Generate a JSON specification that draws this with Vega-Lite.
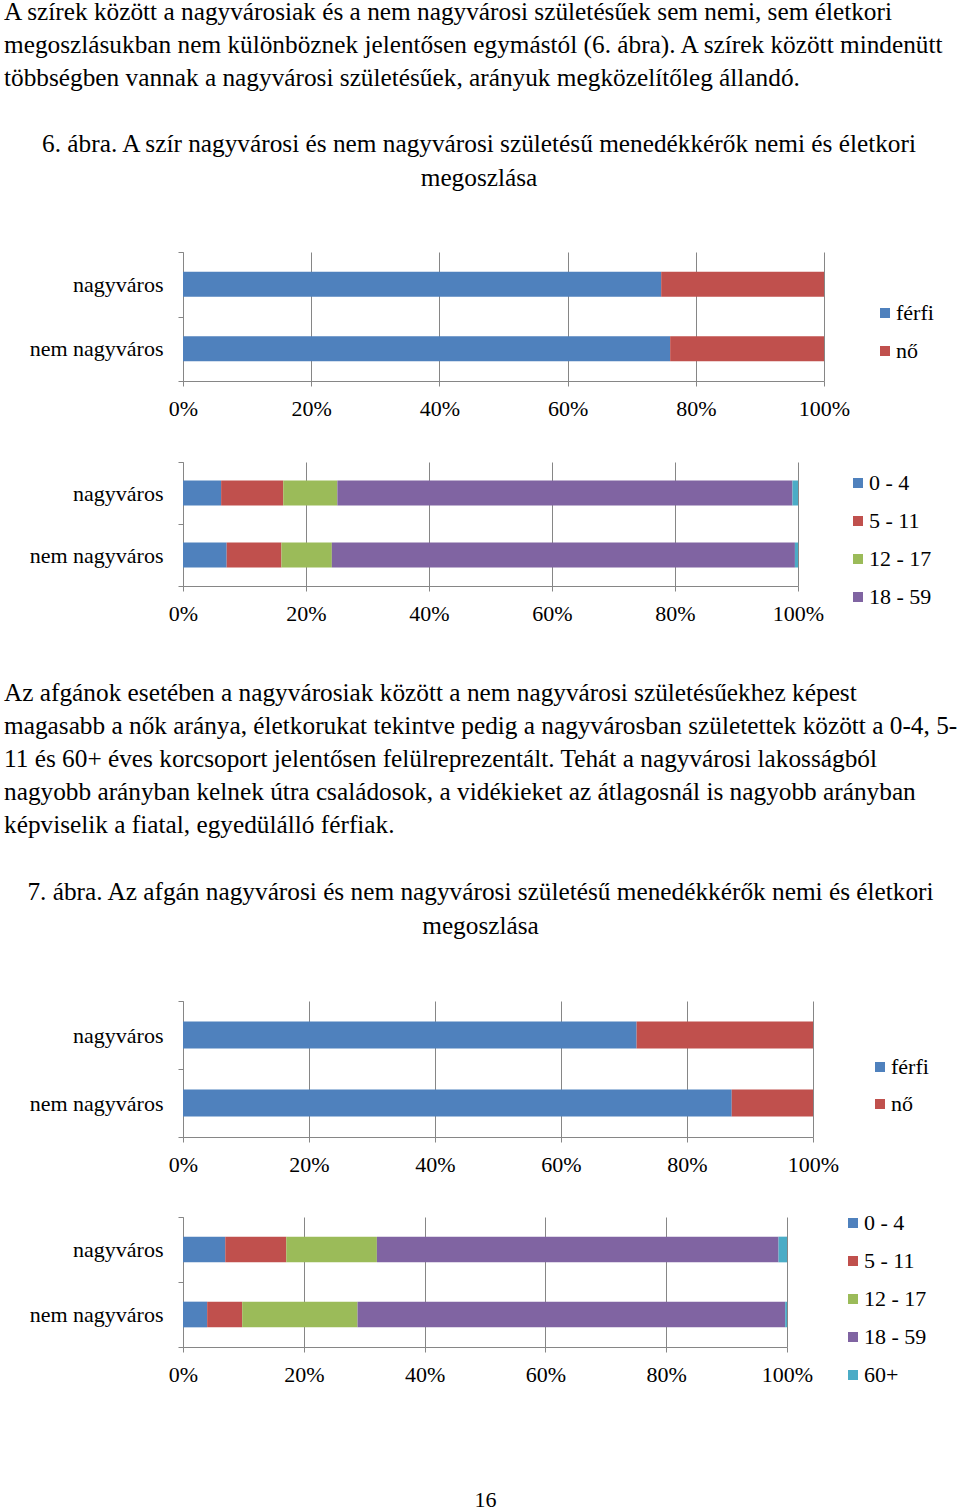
{
  "$schema": "https://vega.github.io/schema/vega-lite/v6.json",
  "background": "white",
  "padding": 0,
  "title": {
    "text": [
      "A szírek között a nagyvárosiak és a nem nagyvárosi születésűek sem nemi, sem életkori",
      "megoszlásukban nem különböznek jelentősen egymástól (6. ábra). A szírek között mindenütt",
      "többségben vannak a nagyvárosi születésűek, arányuk megközelítőleg állandó."
    ],
    "anchor": "start",
    "dx": 4,
    "offset": 40
  },
  "spacing": 57,
  "resolve": {"scale": {"color": "independent", "x": "independent"}, "legend": {"color": "independent"}},
  "vconcat": [
    {
      "title": {
        "text": [
          "6. ábra. A szír nagyvárosi és nem nagyvárosi születésű menedékkérők nemi és életkori",
          "megoszlása"
        ],
        "anchor": "middle",
        "lineHeight": 34,
        "dx": 9,
        "offset": 50
      },
      "spacing": 32,
      "resolve": {"scale": {"color": "independent", "x": "independent"}, "legend": {"color": "independent"}},
      "vconcat": [
        {
          "width": 641,
          "height": 129,
          "data": {
            "values": [
              {"hely": "nagyváros", "csoport": "férfi", "arany": 74.6, "o": 1},
              {"hely": "nagyváros", "csoport": "nő", "arany": 25.4, "o": 2},
              {"hely": "nem nagyváros", "csoport": "férfi", "arany": 76.0, "o": 1},
              {"hely": "nem nagyváros", "csoport": "nő", "arany": 24.0, "o": 2}
            ]
          },
          "mark": {"type": "bar", "strokeWidth": 0, "height": {"band": 0.388}},
          "encoding": {
            "y": {
              "field": "hely", "type": "nominal",
              "sort": ["nagyváros", "nem nagyváros"],
              "scale": {"paddingInner": 0, "paddingOuter": 0},
              "axis": {"title": null, "tickBand": "extent", "labelPadding": 15, "minExtent": 177, "grid": false}
            },
            "x": {
              "field": "arany", "type": "quantitative", "stack": "normalize",
              "scale": {"domain": [0, 1]},
              "axis": {"title": null, "format": ".0%", "values": [0, 0.2, 0.4, 0.6, 0.8, 1], "labelFlush": false, "labelOverlap": false, "labelPadding": 12}
            },
            "color": {
              "field": "csoport", "type": "nominal",
              "scale": {"domain": ["férfi", "nő"], "range": ["#4F81BD", "#C0504D"]},
              "legend": {"orient": "none", "legendX": 691, "legendY": 50}
            },
            "order": {"field": "o"}
          }
        },
        {
          "width": 615,
          "height": 124,
          "data": {
            "values": [
              {"hely": "nagyváros", "csoport": "0 - 4", "arany": 6.2, "o": 1},
              {"hely": "nagyváros", "csoport": "5 - 11", "arany": 10.1, "o": 2},
              {"hely": "nagyváros", "csoport": "12 - 17", "arany": 8.8, "o": 3},
              {"hely": "nagyváros", "csoport": "18 - 59", "arany": 74.0, "o": 4},
              {"hely": "nagyváros", "csoport": "60+", "arany": 0.9, "o": 5},
              {"hely": "nem nagyváros", "csoport": "0 - 4", "arany": 7.1, "o": 1},
              {"hely": "nem nagyváros", "csoport": "5 - 11", "arany": 8.9, "o": 2},
              {"hely": "nem nagyváros", "csoport": "12 - 17", "arany": 8.2, "o": 3},
              {"hely": "nem nagyváros", "csoport": "18 - 59", "arany": 75.3, "o": 4},
              {"hely": "nem nagyváros", "csoport": "60+", "arany": 0.5, "o": 5}
            ]
          },
          "mark": {"type": "bar", "strokeWidth": 0, "height": {"band": 0.403}},
          "encoding": {
            "y": {
              "field": "hely", "type": "nominal",
              "sort": ["nagyváros", "nem nagyváros"],
              "scale": {"paddingInner": 0, "paddingOuter": 0},
              "axis": {"title": null, "tickBand": "extent", "labelPadding": 15, "minExtent": 177, "grid": false}
            },
            "x": {
              "field": "arany", "type": "quantitative", "stack": "normalize",
              "scale": {"domain": [0, 1]},
              "axis": {"title": null, "format": ".0%", "values": [0, 0.2, 0.4, 0.6, 0.8, 1], "labelFlush": false, "labelOverlap": false, "labelPadding": 12}
            },
            "color": {
              "field": "csoport", "type": "nominal",
              "scale": {"domain": ["0 - 4", "5 - 11", "12 - 17", "18 - 59", "60+"], "range": ["#4F81BD", "#C0504D", "#9BBB59", "#8064A2", "#4BACC6"]},
              "legend": {"orient": "none", "legendX": 664, "legendY": 10, "values": ["0 - 4", "5 - 11", "12 - 17", "18 - 59"]}
            },
            "order": {"field": "o"}
          }
        }
      ]
    },
    {
      "title": {
        "text": [
          "Az afgánok esetében a nagyvárosiak között a nem nagyvárosi születésűekhez képest",
          "magasabb a nők aránya, életkorukat tekintve pedig a nagyvárosban születettek között a 0-4, 5-",
          "11 és 60+ éves korcsoport jelentősen felülreprezentált. Tehát a nagyvárosi lakosságból",
          "nagyobb arányban kelnek útra családosok, a vidékieket az átlagosnál is nagyobb arányban",
          "képviselik a fiatal, egyedülálló férfiak."
        ],
        "anchor": "start",
        "dx": 4,
        "offset": 41
      },
      "resolve": {"scale": {"color": "independent", "x": "independent"}, "legend": {"color": "independent"}},
      "vconcat": [
        {
          "title": {
            "text": [
              "7. ábra. Az afgán nagyvárosi és nem nagyvárosi születésű menedékkérők nemi és életkori",
              "megoszlása"
            ],
            "anchor": "middle",
            "lineHeight": 34,
            "dx": 16,
            "offset": 51
          },
          "spacing": 31,
          "resolve": {"scale": {"color": "independent", "x": "independent"}, "legend": {"color": "independent"}},
          "vconcat": [
            {
              "width": 630,
              "height": 136,
              "data": {
                "values": [
                  {"hely": "nagyváros", "csoport": "férfi", "arany": 72.0, "o": 1},
                  {"hely": "nagyváros", "csoport": "nő", "arany": 28.0, "o": 2},
                  {"hely": "nem nagyváros", "csoport": "férfi", "arany": 87.1, "o": 1},
                  {"hely": "nem nagyváros", "csoport": "nő", "arany": 12.9, "o": 2}
                ]
              },
              "mark": {"type": "bar", "strokeWidth": 0, "height": {"band": 0.397}},
              "encoding": {
                "y": {
                  "field": "hely", "type": "nominal",
                  "sort": ["nagyváros", "nem nagyváros"],
                  "scale": {"paddingInner": 0, "paddingOuter": 0},
                  "axis": {"title": null, "tickBand": "extent", "labelPadding": 15, "minExtent": 183, "grid": false}
                },
                "x": {
                  "field": "arany", "type": "quantitative", "stack": "normalize",
                  "scale": {"domain": [0, 1]},
                  "axis": {"title": null, "format": ".0%", "values": [0, 0.2, 0.4, 0.6, 0.8, 1], "labelFlush": false, "labelOverlap": false, "labelPadding": 12}
                },
                "color": {
                  "field": "csoport", "type": "nominal",
                  "scale": {"domain": ["férfi", "nő"], "range": ["#4F81BD", "#C0504D"]},
                  "legend": {"orient": "none", "legendX": 686, "legendY": 55, "rowPadding": 15}
                },
                "order": {"field": "o"}
              }
            },
            {
              "width": 604,
              "height": 130,
              "data": {
                "values": [
                  {"hely": "nagyváros", "csoport": "0 - 4", "arany": 7.0, "o": 1},
                  {"hely": "nagyváros", "csoport": "5 - 11", "arany": 10.1, "o": 2},
                  {"hely": "nagyváros", "csoport": "12 - 17", "arany": 15.0, "o": 3},
                  {"hely": "nagyváros", "csoport": "18 - 59", "arany": 66.5, "o": 4},
                  {"hely": "nagyváros", "csoport": "60+", "arany": 1.4, "o": 5},
                  {"hely": "nem nagyváros", "csoport": "0 - 4", "arany": 4.0, "o": 1},
                  {"hely": "nem nagyváros", "csoport": "5 - 11", "arany": 5.8, "o": 2},
                  {"hely": "nem nagyváros", "csoport": "12 - 17", "arany": 19.1, "o": 3},
                  {"hely": "nem nagyváros", "csoport": "18 - 59", "arany": 70.8, "o": 4},
                  {"hely": "nem nagyváros", "csoport": "60+", "arany": 0.3, "o": 5}
                ]
              },
              "mark": {"type": "bar", "strokeWidth": 0, "height": {"band": 0.395}},
              "encoding": {
                "y": {
                  "field": "hely", "type": "nominal",
                  "sort": ["nagyváros", "nem nagyváros"],
                  "scale": {"paddingInner": 0, "paddingOuter": 0},
                  "axis": {"title": null, "tickBand": "extent", "labelPadding": 15, "minExtent": 183, "grid": false}
                },
                "x": {
                  "field": "arany", "type": "quantitative", "stack": "normalize",
                  "scale": {"domain": [0, 1]},
                  "axis": {"title": "16", "titlePadding": 104, "titleFontSize": 22, "titleFontWeight": "normal", "titleFont": "Liberation Serif", "titleColor": "black", "format": ".0%", "values": [0, 0.2, 0.4, 0.6, 0.8, 1], "labelFlush": false, "labelOverlap": false, "labelPadding": 12}
                },
                "color": {
                  "field": "csoport", "type": "nominal",
                  "scale": {"domain": ["0 - 4", "5 - 11", "12 - 17", "18 - 59", "60+"], "range": ["#4F81BD", "#C0504D", "#9BBB59", "#8064A2", "#4BACC6"]},
                  "legend": {"orient": "none", "legendX": 659, "legendY": -5}
                },
                "order": {"field": "o"}
              }
            }
          ]
        }
      ]
    }
  ],
  "config": {
    "font": "Liberation Serif",
    "view": {"stroke": null},
    "title": {"font": "Liberation Serif", "fontSize": 25.3, "fontWeight": "normal", "color": "black", "lineHeight": 33},
    "axis": {
      "labelFont": "Liberation Serif", "labelFontSize": 22, "labelColor": "black",
      "domainColor": "#868686", "tickColor": "#868686", "gridColor": "#868686",
      "tickSize": 5, "domainWidth": 1, "tickWidth": 1, "gridWidth": 1, "gridOpacity": 1
    },
    "legend": {
      "title": null, "labelFont": "Liberation Serif", "labelFontSize": 22, "labelColor": "black",
      "symbolType": "square", "symbolSize": 100, "symbolStrokeWidth": 0, "symbolOpacity": 1,
      "rowPadding": 16, "labelOffset": 0, "padding": 0
    }
  }
}
